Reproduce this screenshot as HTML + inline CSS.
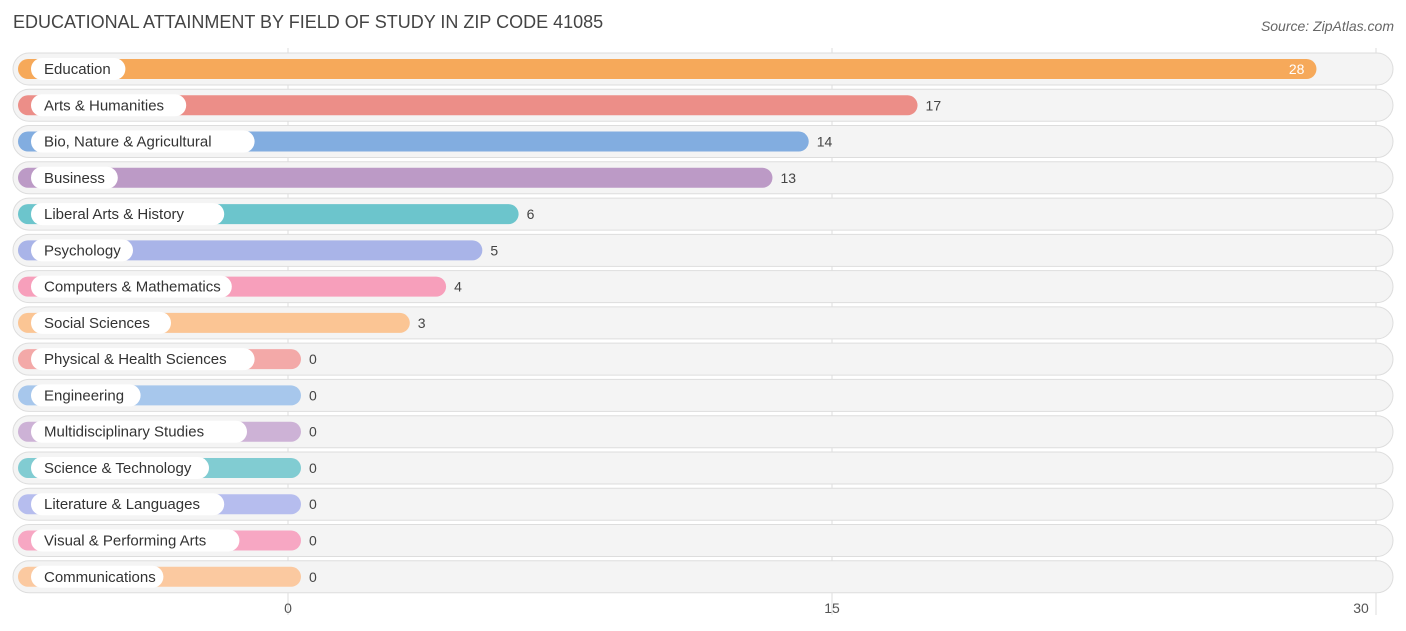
<!DOCTYPE html>
<html><head><meta charset="utf-8"><style>
body{margin:0;background:#fff;font-family:"Liberation Sans",sans-serif;}
svg{display:block}
</style></head><body>
<svg id="chart" width="1406" height="631">
<text x="13" y="28" font-size="18" fill="#444">EDUCATIONAL ATTAINMENT BY FIELD OF STUDY IN ZIP CODE 41085</text>
<text x="1394" y="31" font-size="14" fill="#666" font-style="italic" text-anchor="end">Source: ZipAtlas.com</text>
<g id="grid"></g><g id="rows"></g>
</svg>
<script>
const categories=["Education","Arts & Humanities","Bio, Nature & Agricultural","Business","Liberal Arts & History","Psychology","Computers & Mathematics","Social Sciences","Physical & Health Sciences","Engineering","Multidisciplinary Studies","Science & Technology","Literature & Languages","Visual & Performing Arts","Communications"];
const values=[28,17,14,13,6,5,4,3,0,0,0,0,0,0,0];
const colors=["#f6a95a","#ec8e88","#82ade0","#bc9ac6","#6cc5cc","#a9b4e8","#f79fbb","#fbc594","#f3a9a8","#a7c7ec","#cdb2d6","#81ccd2","#b6bdee","#f7a7c3","#fbc9a0"];
const ticks=[0,15,30];
const NS="http://www.w3.org/2000/svg";
const x=v=>288+v*(1376-288)/30;
const y=i=>69+i*36.27;
function mk(t,a,p){const e=document.createElementNS(NS,t);for(const k in a)e.setAttribute(k,a[k]);p.appendChild(e);return e;}
const grid=document.getElementById('grid'),rows=document.getElementById('rows');
ticks.forEach(t=>{
 const l=mk('line',{x1:x(t),x2:x(t),y1:48,y2:615,stroke:'#ddd','stroke-width':1},grid);
 
 
 const tx=mk('text',{x:x(t)-(t===30?15:0),y:613,'font-size':14,fill:'#555','text-anchor':'middle'},grid);
 tx.textContent=t;
 
 
});
categories.forEach((c,i)=>{
 const cy=y(i);
 const g=mk('g',{},rows);
 
 
 const bg=mk('rect',{x:13,y:cy-16,width:1380,height:32,rx:16,fill:'#f4f4f4',stroke:'#ddd','stroke-width':1},g);
 
 
 const end=x(values[i])+13;
 const b=mk('rect',{x:18,y:cy-10,width:end-18,height:20,rx:10,fill:colors[i]},g);
 
 
 const tw=c.length*7.6+26;
 const lp=mk('rect',{x:31,y:cy-11,width:tw,height:22,rx:11,fill:'#fff'},g);
 
 
 const lt=mk('text',{x:44,y:cy+5,'font-size':15,fill:'#333'},g);
 lt.textContent=c;
 
 
 const inside=values[i]>=25;
 const vt=mk('text',{x:inside?end-12:end+8,y:cy+5,'font-size':14,fill:inside?'#fff':'#444','text-anchor':inside?'end':'start'},g);
 vt.textContent=values[i];
 
 
});
</script>
</body></html>
